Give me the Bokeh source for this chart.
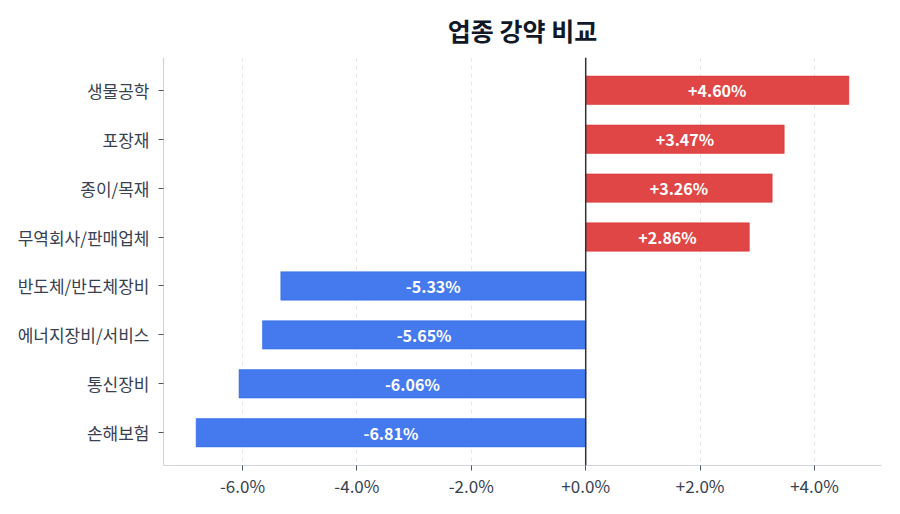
from bokeh.plotting import figure
from bokeh.models import Range1d, FixedTicker, Span, ColumnDataSource
from bokeh.core.properties import value
from bokeh.embed import file_html
from bokeh.resources import INLINE

# ---- data ----
categories = ["생물공학", "포장재", "종이/목재", "무역회사/판매업체",
              "반도체/반도체장비", "에너지장비/서비스", "통신장비", "손해보험"]
changes = [4.60, 3.47, 3.26, 2.86, -5.33, -5.65, -6.06, -6.81]
x_ticks = [-6, -4, -2, 0, 2, 4]
x_tick_labels = ["-6.0%", "-4.0%", "-2.0%", "+0.0%", "+2.0%", "+4.0%"]
title_text = "업종 강약 비교"

FONT = "Noto Sans CJK KR"
RED = "#dc2626"
BLUE = "#2563eb"

ypos = list(range(len(categories)))
colors = [RED if v >= 0 else BLUE for v in changes]
labels = [("+" if v >= 0 else "") + f"{v:.2f}%" for v in changes]
src = ColumnDataSource(dict(y=ypos, v=changes, half=[v / 2 for v in changes],
                            c=colors, lab=labels))

lo, hi = min(changes), max(changes)
pad = (hi - lo) * 0.05
n = len(categories)

p = figure(width=884, height=506, output_backend="svg", toolbar_location=None,
           x_range=Range1d(lo - pad, hi + pad),
           y_range=Range1d(n - 1 + 0.67, -0.67),
           min_border_left=163, min_border_right=3,
           min_border_top=57, min_border_bottom=41)

p.title.text = title_text
p.title.align = "center"
p.title.text_font = FONT
p.title.text_font_size = "25px"
p.title.text_font_style = "bold"
p.title.text_color = "#111827"
p.title.offset = 0
p.title.standoff = 19

p.hbar(y="y", left=0, right="v", height=0.58, source=src,
       fill_color="c", fill_alpha=0.85, line_color="c", line_alpha=0.5, line_width=1)

p.text(x="half", y="y", text="lab", source=src, text_align="center",
       text_baseline="middle", text_color="white", text_font=value(FONT),
       text_font_size="16px", text_font_style="bold")

p.add_layout(Span(location=0, dimension="height", line_color="#333333", line_width=1.5))

p.outline_line_color = None
p.ygrid.grid_line_color = None
p.xgrid.grid_line_color = "#e5e7eb"
p.xgrid.grid_line_dash = "4 4"
p.xgrid.grid_line_width = 1

p.xaxis.ticker = FixedTicker(ticks=x_ticks)
p.xaxis.major_label_overrides = {t: s for t, s in zip(x_ticks, x_tick_labels)}
p.yaxis.ticker = FixedTicker(ticks=ypos)
p.yaxis.major_label_overrides = {i: c for i, c in zip(ypos, categories)}

for ax in (p.xaxis, p.yaxis):
    ax.axis_line_color = "#d1d5db"
    ax.axis_line_width = 1.2
    ax.major_tick_line_color = "#4b5563"
    ax.major_tick_out = 5
    ax.major_tick_in = 0
    ax.minor_tick_line_color = None
    ax.major_label_text_font = FONT
    ax.major_label_text_font_size = "17px"
    ax.major_label_text_color = "#374151"
p.xaxis.major_label_standoff = 2
p.yaxis.major_label_standoff = 9

p.background_fill_color = "white"
p.border_fill_color = "white"

open("out.html", "w").write(file_html(p, INLINE))
